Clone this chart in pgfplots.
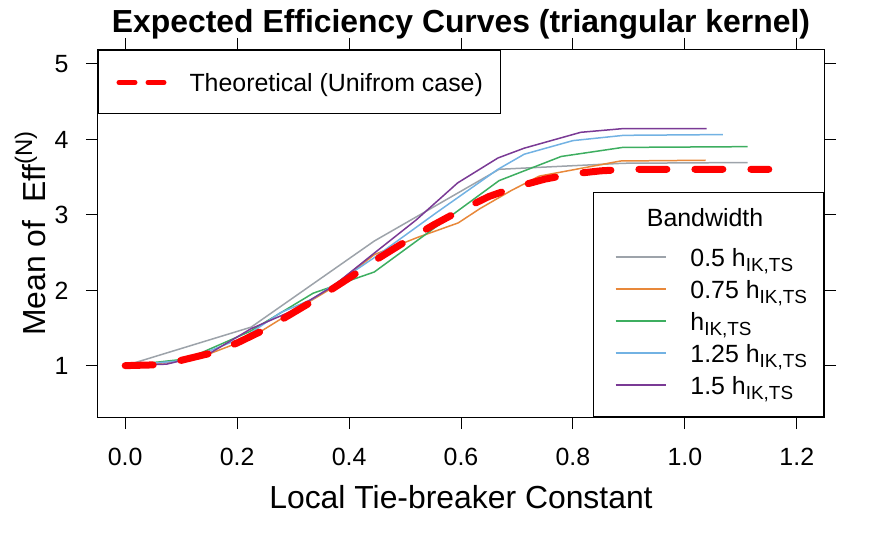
\documentclass[border=0pt]{standalone}
\usepackage{fontspec}
\setmainfont{Liberation Sans}
\usepackage{pgfplots}
\pgfplotsset{compat=1.18}
\definecolor{cgray}{HTML}{9DA3AA}
\definecolor{corange}{HTML}{E8883A}
\definecolor{cgreen}{HTML}{3DAE60}
\definecolor{cblue}{HTML}{72B2E3}
\definecolor{cpurple}{HTML}{7A3A95}
\newcommand{\hsub}{h\raisebox{-5bp}{\fontsize{19}{19}\selectfont IK,TS}}
\begin{document}
\begin{tikzpicture}
\begin{axis}[name=ax,
  scale only axis, width=726bp, height=367bp,
  xmin=-0.0486, xmax=1.2486, ymin=0.32, ymax=5.18,
  axis line style={line width=1bp},
  tick align=outside, major tick length=12bp,
  tick style={line width=1bp, black},
  xtick={0,0.2,0.4,0.6,0.8,1.0,1.2},
  xticklabels={0.0,0.2,0.4,0.6,0.8,1.0,1.2},
  ytick={1,2,3,4,5}, yticklabels={1,2,3,4,5},
  /pgf/number format/assume math mode=true,
  ticklabel style={font=\fontsize{25}{30}\selectfont},
  xticklabel style={anchor=base, yshift=-36bp},
  yticklabel style={anchor=base east, yshift=-9bp, xshift=-14bp},
  xlabel={Local Tie-breaker Constant},
  xlabel style={font=\fontsize{32}{36}\selectfont, at={(axis description cs:0.5,0)}, anchor=base, yshift=-91bp},
  ylabel={Mean of\ \ Eff\raisebox{13bp}{\fontsize{24}{24}\selectfont (N)}},
  ylabel style={font=\fontsize{32}{36}\selectfont, at={(axis description cs:-0.073,0.5)}, anchor=base, rotate=0},
  title={\bfseries Expected Efficiency Curves (triangular kernel)},
  title style={font=\fontsize{32}{36}\selectfont, at={(axis description cs:0.5,1)}, anchor=base, yshift=12bp},
  legend style={at={(axis description cs:1,0)}, anchor=south east,
    draw=black, line width=1bp, fill=white,
    font=\fontsize{25}{30}\selectfont,
    inner xsep=16.5bp, inner ysep=15.5bp,
    row sep=7bp,
    /tikz/every odd column/.append style={column sep=24bp},
    nodes={inner sep=0pt, text height=18bp, text depth=7bp},
    cells={anchor=base west}},
  legend image code/.code={\path (0bp,9bp); \draw[#1] (5bp,9bp) -- (55bp,9bp);},
  every axis plot/.append style={line width=1.5bp},
]
\addlegendimage{empty legend}
\addlegendentry[text depth=15bp]{\makebox[0pt][l]{\hspace*{-44bp}Bandwidth}}
\addplot[cgray] coordinates {(0,1) (0.225,1.51) (0.445,2.65) (0.668,3.60) (0.89,3.68) (1.112,3.69)};
\addlegendentry{0.5 \hsub}
\addplot[corange] coordinates {(0,1) (0.074,1.04) (0.148,1.15) (0.222,1.36) (0.296,1.70) (0.37,2.03) (0.445,2.47) (0.523,2.70) (0.595,2.89) (0.634,3.08) (0.69,3.32) (0.74,3.51) (0.885,3.71) (1.037,3.72)};
\addlegendentry{0.75 \hsub}
\addplot[cgreen] coordinates {(0,1) (0.111,1.09) (0.222,1.45) (0.336,1.96) (0.445,2.24) (0.668,3.45) (0.779,3.77) (0.889,3.89) (1.112,3.90)};
\addlegendentry{\hsub}
\addplot[cblue] coordinates {(0,1) (0.107,1.07) (0.214,1.38) (0.277,1.70) (0.334,1.88) (0.445,2.43) (0.555,3.02) (0.666,3.60) (0.713,3.80) (0.80,3.98) (0.891,4.05) (1.068,4.06)};
\addlegendentry{1.25 \hsub}
\addplot[cpurple] coordinates {(0,1) (0.074,1.02) (0.148,1.15) (0.225,1.49) (0.297,1.72) (0.371,2.05) (0.445,2.49) (0.52,2.93) (0.594,3.42) (0.666,3.75) (0.713,3.88) (0.814,4.09) (0.891,4.14) (1.039,4.14)};
\addlegendentry{1.5 \hsub}
\end{axis}
\begin{axis}[
  scale only axis, width=726bp, height=367bp,
  xmin=-0.0486, xmax=1.2486, ymin=0.32, ymax=5.18,
  hide axis,
  legend style={at={(axis description cs:0,1)}, anchor=north west,
    draw=black, line width=1bp, fill=white,
    font=\fontsize{25}{30}\selectfont,
    inner xsep=18bp, inner ysep=15bp,
    /tikz/every odd column/.append style={column sep=23bp},
    nodes={inner sep=0pt, text height=26bp, text depth=7bp},
    cells={anchor=base west}},
  legend image code/.code={\draw[#1, line width=5bp, dash pattern=on 16bp off 13bp] (2.5bp,9bp) -- (47.5bp,9bp);},
]
\addplot[red, line width=7bp, line cap=round, dash pattern=on 28bp off 28bp] coordinates {(0,1.00) (0.05,1.01) (0.1,1.07) (0.15,1.16) (0.2,1.30) (0.25,1.48) (0.3,1.70) (0.35,1.92) (0.4,2.16) (0.45,2.41) (0.5,2.64) (0.55,2.86) (0.6,3.06) (0.65,3.24) (0.7,3.37) (0.75,3.47) (0.8,3.54) (0.85,3.58) (0.9,3.60) (0.95,3.60) (1.0,3.60) (1.15,3.60)};
\addlegendentry{Theoretical (Unifrom case)}
\end{axis}
\pgfresetboundingbox
\path[use as bounding box] (ax.south west) ++(-98bp,-123bp) rectangle ++(875bp,540bp);
\end{tikzpicture}
\end{document}
